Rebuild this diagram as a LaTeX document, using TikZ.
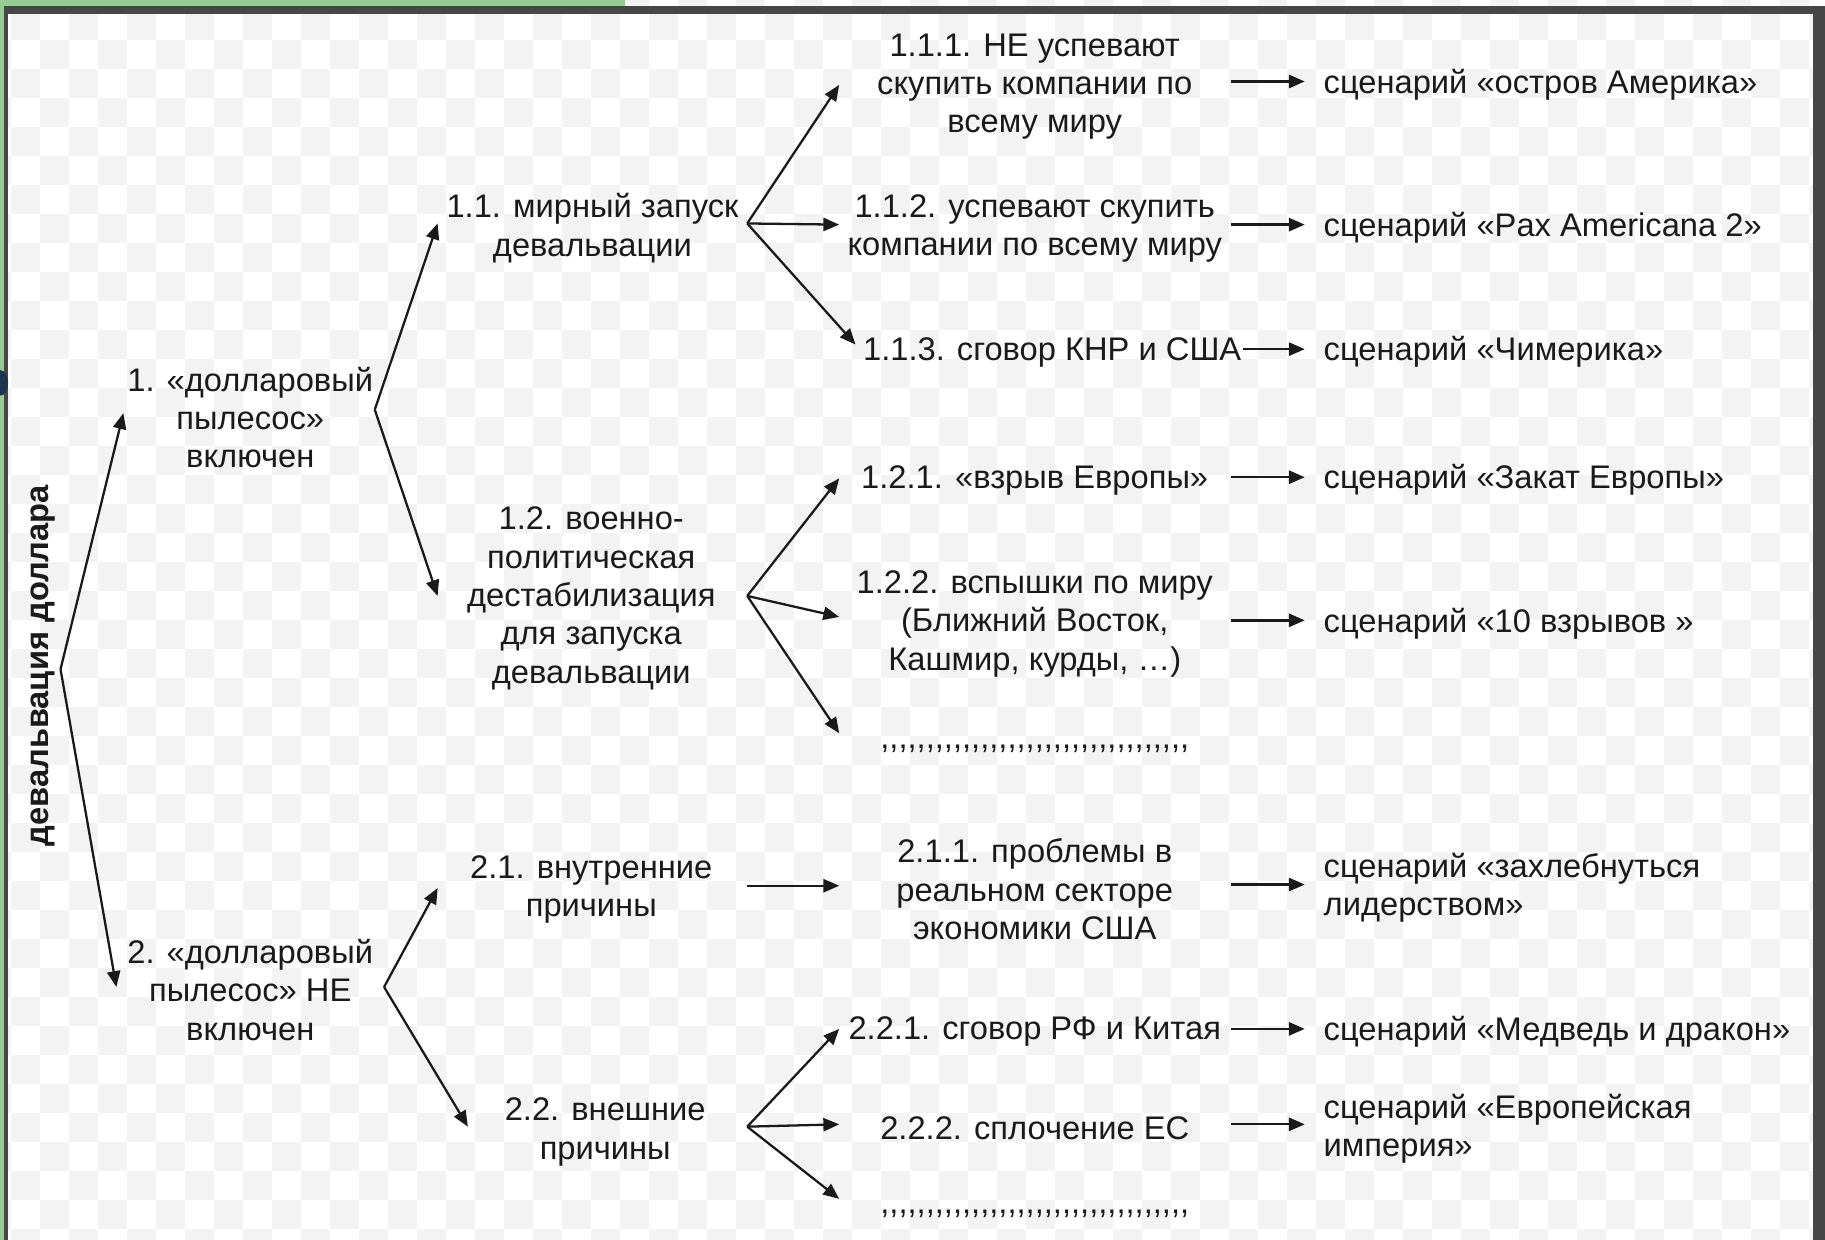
\documentclass[tikz,border=0pt]{standalone}
\usepackage{fontspec}
\setmainfont{Liberation Sans}
\usetikzlibrary{arrows.meta}
\definecolor{ink}{HTML}{1A1A1A}
\definecolor{checker}{HTML}{F3F3F3}
\definecolor{framegreen}{HTML}{97CB93}
\definecolor{framedark}{HTML}{474747}
\definecolor{navyblob}{HTML}{1E3550}
\newcommand\commarow{\foreach \k in {1,...,34}{,\kern0pt}}
\begin{document}
\begin{tikzpicture}[x=0.02328cm, y=-0.02328cm,
  basetxt/.style={align=center, inner sep=0pt, text=ink, font=\fontsize{18.6}{21.8}\selectfont},
  txt/.style={basetxt, yshift=-0.06cm},
  scen/.style={txt, align=left, anchor=west},
  arr/.style={draw=ink, line width=1.3pt, -{Triangle[length=9pt,width=7.5pt]}}]
\useasboundingbox (0,0) rectangle (1568,1065);
% background
\fill[white] (0,0) rectangle (1568,1065);
\foreach \j in {0,...,44} {
  \pgfmathtruncatemacro\st{mod(\j,2)}
  \pgfmathtruncatemacro\nx{\st+2}
  \foreach \i in {\st,\nx,...,64} {
    \fill[checker] ({9.45+(\i-1)*24.92},{9.45+(\j-1)*24.92}) rectangle ++(24.92,24.92);
  }
}
% frame
\fill[framegreen] (0,0) rectangle (537,5);
\fill[framegreen] (0,0) rectangle (3.6,1065);
\fill[framedark] (3.6,5) rectangle (1568,12);
\fill[framedark] (3.6,5) rectangle (7,1065);
\fill[framedark] (1558,5) rectangle (1568,1065);
\fill[navyblob] (0,329) ellipse [x radius=7, y radius=11];

% nodes
\node[basetxt, rotate=90, font=\fontsize{18.6}{21.8}\selectfont\bfseries] (root) at (37,572) {девальвация доллара};
\node[txt] (n1) at (215,356) {1. «долларовый\\пылесос»\\включен};
\node[txt] (n2) at (215,848) {2. «долларовый\\пылесос» НЕ\\включен};
\node[txt] (n11) at (509,193.5) {1.1. мирный запуск\\девальвации};
\node[txt] (n12) at (508,511.5) {1.2. военно-\\политическая\\дестабилизация\\для запуска\\девальвации};
\node[txt] (n21) at (508,761.5) {2.1. внутренние\\причины};
\node[txt] (n22) at (520,970) {2.2. внешние\\причины};
\node[txt] (n111) at (889,72) {1.1.1. НЕ успевают\\скупить компании по\\всему миру};
\node[txt] (n112) at (889,193.5) {1.1.2. успевают скупить\\компании по всему миру};
\node[txt] (n113) at (904,300) {1.1.3. сговор КНР и США};
\node[txt] (n121) at (889,410) {1.2.1. «взрыв Европы»};
\node[txt] (n122) at (889,533.5) {1.2.2. вспышки по миру\\(Ближний Восток,\\Кашмир, курды, …)};
\node[basetxt, anchor=base] (d12) at (889,643) {\commarow};
\node[txt] (n211) at (889,761.5) {2.1.1. проблемы в\\реальном секторе\\экономики США};
\node[txt] (n221) at (889,884) {2.2.1. сговор РФ и Китая};
\node[txt] (n222) at (889,967) {2.2.2. сплочение ЕС};
\node[basetxt, anchor=base] (d22) at (889,1043) {\commarow};

\node[scen] (s111) at (1137,70) {сценарий «остров Америка»};
\node[scen] (s112) at (1137,193) {сценарий «Pax Americana 2»};
\node[scen] (s113) at (1137,300) {сценарий «Чимерика»};
\node[scen] (s121) at (1137,410) {сценарий «Закат Европы»};
\node[scen] (s122) at (1137,533) {сценарий «10 взрывов »};
\node[scen] (s211) at (1137,760) {сценарий «захлебнуться\\лидерством»};
\node[scen] (s221) at (1137,884) {сценарий «Медведь и дракон»};
\node[scen] (s222) at (1137,967) {сценарий «Европейская\\империя»};

% branch points and arrow ends
\coordinate (v0) at (52,575);
\coordinate (e1) at (106,355);
\coordinate (e2) at (100,848);
\coordinate (v1) at (322,352);
\coordinate (e11) at (376,192);
\coordinate (e12) at (376,512);
\coordinate (v11) at (642,192);
\coordinate (e111) at (721,73);
\coordinate (e112) at (721,193);
\coordinate (e113) at (735,296);
\coordinate (v12) at (642,512);
\coordinate (e121) at (721,411);
\coordinate (e122) at (721,530);
\coordinate (e123) at (721,630);
\coordinate (v2) at (330,848);
\coordinate (e21) at (376,763);
\coordinate (e22) at (402,968);
\coordinate (v21) at (642,761);
\coordinate (e211) at (721,761);
\coordinate (v22) at (642,968);
\coordinate (e221) at (721,884);
\coordinate (e222) at (721,966);
\coordinate (e223) at (721,1030);

\draw[arr] (v0) -- (e1);
\draw[arr] (v0) -- (e2);
\draw[arr] (v1) -- (e11);
\draw[arr] (v1) -- (e12);
\draw[arr] (v11) -- (e111);
\draw[arr] (v11) -- (e112);
\draw[arr] (v11) -- (e113);
\draw[arr] (v12) -- (e121);
\draw[arr] (v12) -- (e122);
\draw[arr] (v12) -- (e123);
\draw[arr] (v2) -- (e21);
\draw[arr] (v2) -- (e22);
\draw[arr] (v21) -- (e211);
\draw[arr] (v22) -- (e221);
\draw[arr] (v22) -- (e222);
\draw[arr] (v22) -- (e223);

% arrows to scenarios
\foreach \nm/\xa/\yy in {111/1058/70, 112/1058/193, 113/1068/300, 121/1058/410, 122/1058/533, 211/1058/760, 221/1058/884, 222/1058/966}{
  \coordinate (h\nm) at (\xa,\yy);
  \coordinate (t\nm) at (1121,\yy);
  \draw[arr] (h\nm) -- (t\nm);
}
\end{tikzpicture}
\end{document}
